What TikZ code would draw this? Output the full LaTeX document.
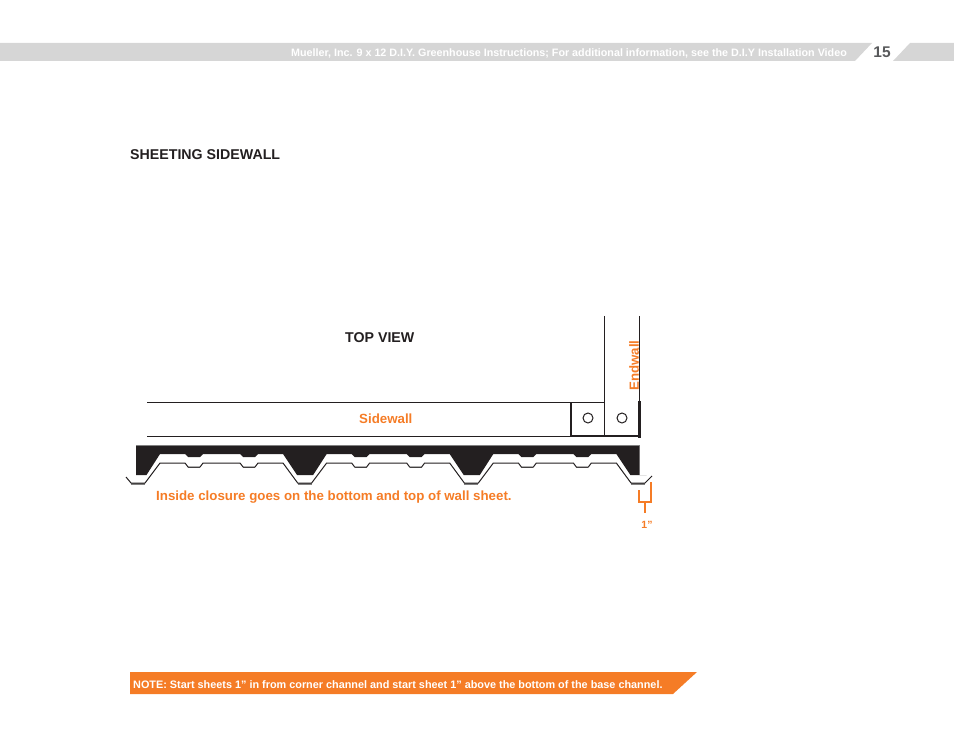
\documentclass[tikz,border=0pt]{standalone}
\usepackage{fontspec}
\setmainfont{Liberation Sans}
\definecolor{barorange}{RGB}{245,124,38}
\definecolor{bargray}{RGB}{214,214,214}
\definecolor{pagegray}{RGB}{88,89,91}
\definecolor{inkblack}{RGB}{35,31,32}
\tikzset{
  plainline/.style={draw=inkblack, line width=1pt},
  heavyline/.style={draw=inkblack, line width=2pt},
  flatline/.style={draw=gray, line width=1.5pt},
  headtxt/.style={font=\fontsize{14.2}{16}\selectfont\bfseries, text=inkblack, inner sep=0pt},
  orangetxt/.style={font=\fontsize{13.3}{15}\selectfont\bfseries, text=barorange, inner sep=0pt},
}
\begin{document}
\begin{tikzpicture}[x=1pt,y=-1pt]
        \useasboundingbox (0,0) rectangle (954,738);
        \fill[bargray] (0,43) -- (872,43) -- (855,61) -- (0,61) -- cycle;      % header
        \fill[bargray] (910,43) -- (954,43) -- (954,61) -- (893,61) -- cycle;
        \node[font=\fontsize{10.75}{12}\selectfont\bfseries, text=white, inner sep=0pt, anchor=east](hdr) at (847,53.5) {Mueller, Inc. 9 x 12 D.I.Y. Greenhouse Instructions; For additional information, see the D.I.Y Installation Video};
        \node[font=\fontsize{15.5}{17}\selectfont\bfseries, text=pagegray, inner sep=0pt](pagenum) at (882,52) {15};
        \node[headtxt, anchor=west](title) at (130,155) {SHEETING SIDEWALL};
        \node[headtxt, anchor=west](topview) at (345,338) {TOP VIEW};

        \draw[plainline] (147,402) -- (571,402);                               % sidewall
        \draw[plainline] (147,436) -- (571,436);
        \draw[plainline] (571,402) -- (604,402);
        \draw[plainline] (604,316) -- (604,436);                               % endwall
        \draw[plainline] (639,316) -- (639,402);
        \draw[heavyline] (571,402) -- (571,436) -- (639,436);
        \draw[draw=inkblack, line width=3pt] (639,401) -- (639,437.5);
        \draw[inkblack, line width=1pt] (588,418) circle (5);
        \draw[inkblack, line width=1pt] (622,418) circle (5);
        \node[orangetxt, anchor=west](sidewall) at (359,419) {Sidewall};
        \node[orangetxt, rotate=90, anchor=west](endwall) at (634,391) {Endwall};

        % closure
        \fill[inkblack] (136,445) -- (136,475) -- (146.5,475)
          \foreach \c in {138.5,305.17,471.83} {
            -- (\c+21.5,454) -- (\c+46.5,454) -- (\c+49.5,457) -- (\c+61.5,457) -- (\c+64.5,454)
            -- (\c+101.5,454) -- (\c+104.5,457) -- (\c+116.5,457) -- (\c+119.5,454) -- (\c+144.5,454)
            -- (\c+158.5,475) -- (\c+174.67,475)
          } -- (639.5,475) -- (639.5,445) -- cycle;
        \draw[flatline] (136,445.3) -- (639.5,445.3);

        % wall sheet
        \foreach \c in {138.5,305.17,471.83,638.5} {
          \draw[flatline] (\c-7.5,484) -- (\c+6.5,484);
        }
        \foreach \c in {138.5,305.17,471.83} {
          \draw[flatline] (\c+49.5,467.6) -- (\c+61.5,467.6);
          \draw[flatline] (\c+104.5,467.6) -- (\c+116.5,467.6);
        }
        \draw[plainline, line join=round] (126,477) -- (131,483)
          \foreach \c in {138.5,305.17,471.83} {
            -- (\c+6.5,483) -- (\c+21.5,463) -- (\c+46.5,463) -- (\c+49.5,467) -- (\c+61.5,467) -- (\c+64.5,463)
            -- (\c+101.5,463) -- (\c+104.5,467) -- (\c+116.5,467) -- (\c+119.5,463) -- (\c+144.5,463)
            -- (\c+159.17,483)
          } -- (645,483) -- (652,476);

        \node[orangetxt, anchor=west](closure) at (156,497) {Inside closure goes on the bottom and top of wall sheet.};
        \draw[barorange, line width=1.5pt] (639,490) -- (639,502) -- (651,502) -- (651,482);
        \draw[barorange, line width=1.5pt] (645,502) -- (645,513);
        \node[font=\fontsize{10.5}{12}\selectfont\bfseries, text=barorange, inner sep=0pt](inch) at (647,525) {1"};

        \fill[barorange] (130,672) -- (697,672) -- (673,694) -- (130,694) -- cycle;  % note
        \node[font=\fontsize{10.85}{12}\selectfont\bfseries, text=white, inner sep=0pt, anchor=west](note) at (133,684.5) {NOTE: Start sheets 1" in from corner channel and start sheet 1" above the bottom of the base channel.};
\end{tikzpicture}
\end{document}
